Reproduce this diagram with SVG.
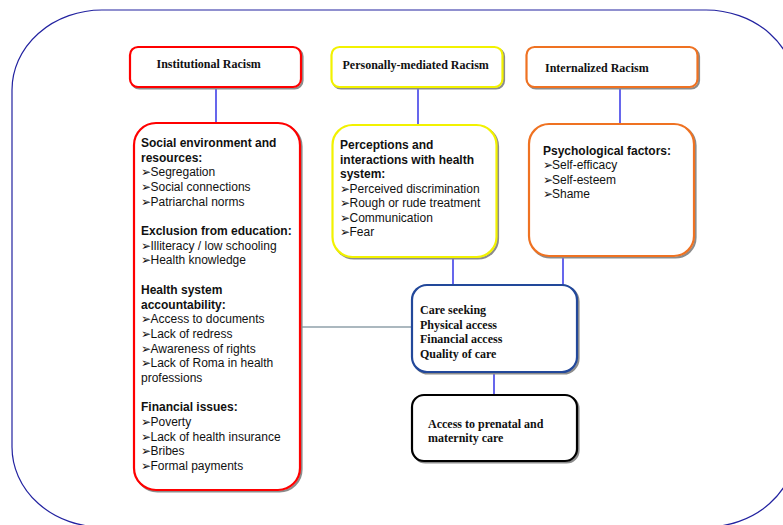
<svg xmlns="http://www.w3.org/2000/svg" width="783" height="525" viewBox="0 0 783 525">
<style>
.frame{fill:none;stroke:#2222a0;stroke-width:1.2}
.box{fill:#fff;stroke-width:2.2}
.shadow{fill:none;stroke:#8c8c8c;stroke-width:2.2}
.red{stroke:#ff0000}
.yellow{stroke:#f2f200}
.orange{stroke:#ef7222}
.navy{stroke:#22489a}
.black{stroke:#000}
.conn{stroke:#0000e0;stroke-width:1.2;fill:none}
.gray{stroke:#8fa0aa;stroke-width:1.5;fill:none}
.ttl{font-family:"Liberation Serif","Times New Roman",serif;font-weight:bold;font-size:12px;fill:#111}
.sans{font-family:"Liberation Sans",Arial,sans-serif;font-size:12px;fill:#111}
.b{font-weight:bold}
.bul{font-family:"DejaVu Sans",sans-serif;font-size:12px}
</style>
<rect class="frame" x="12" y="10" width="784" height="517" rx="90" ry="80"/>

<g id="connectors">
<line class="conn" x1="216" y1="88" x2="216" y2="124"/>
<line class="conn" x1="418" y1="88" x2="418" y2="124"/>
<line class="conn" x1="620" y1="88" x2="620" y2="124"/>
<line class="conn" x1="453" y1="258" x2="453" y2="285"/>
<line class="conn" x1="563" y1="258" x2="563" y2="285"/>
<line class="gray" x1="300" y1="327" x2="411" y2="327"/>
<line class="conn" x1="494" y1="373" x2="494" y2="395"/>
</g>

<g id="institutional">
<rect class="shadow" x="131.5" y="48.5" width="171" height="40" rx="8"/>
<rect class="box red" x="130" y="47" width="171" height="40" rx="8"/>
<text class="ttl" x="156.5" y="68">Institutional Racism</text>
</g>

<g id="personally">
<rect class="shadow" x="333" y="48.5" width="171" height="40" rx="8"/>
<rect class="box yellow" x="331.5" y="47" width="171" height="40" rx="8"/>
<text class="ttl" x="342.5" y="69">Personally-mediated Racism</text>
</g>

<g id="internalized">
<rect class="shadow" x="528" y="48.5" width="171" height="40" rx="8"/>
<rect class="box orange" x="526.5" y="47" width="171" height="40" rx="8"/>
<text class="ttl" x="545" y="72">Internalized Racism</text>
</g>

<g id="social">
<rect class="shadow" x="135.5" y="124.5" width="166" height="367" rx="22"/>
<rect class="box red" x="134" y="123" width="166" height="367" rx="22"/>
<text class="sans">
<tspan class="b" x="141" y="147">Social environment and</tspan>
<tspan class="b" x="141" y="161.7">resources:</tspan>
<tspan class="bul" x="141" y="176.4">➢</tspan><tspan x="150.5" y="176.4">Segregation</tspan>
<tspan class="bul" x="141" y="191">➢</tspan><tspan x="150.5" y="191">Social connections</tspan>
<tspan class="bul" x="141" y="205.7">➢</tspan><tspan x="150.5" y="205.7">Patriarchal norms</tspan>
<tspan class="b" x="141" y="235.1">Exclusion from education:</tspan>
<tspan class="bul" x="141" y="249.8">➢</tspan><tspan x="150.5" y="249.8">Illiteracy / low schooling</tspan>
<tspan class="bul" x="141" y="264.4">➢</tspan><tspan x="150.5" y="264.4">Health knowledge</tspan>
<tspan class="b" x="141" y="293.8">Health system</tspan>
<tspan class="b" x="141" y="308.5">accountability:</tspan>
<tspan class="bul" x="141" y="323.2">➢</tspan><tspan x="150.5" y="323.2">Access to documents</tspan>
<tspan class="bul" x="141" y="337.8">➢</tspan><tspan x="150.5" y="337.8">Lack of redress</tspan>
<tspan class="bul" x="141" y="352.5">➢</tspan><tspan x="150.5" y="352.5">Awareness of rights</tspan>
<tspan class="bul" x="141" y="367.2">➢</tspan><tspan x="150.5" y="367.2">Lack of Roma in health</tspan>
<tspan x="141" y="381.9">professions</tspan>
<tspan class="b" x="141" y="411.2">Financial issues:</tspan>
<tspan class="bul" x="141" y="425.9">➢</tspan><tspan x="150.5" y="425.9">Poverty</tspan>
<tspan class="bul" x="141" y="440.6">➢</tspan><tspan x="150.5" y="440.6">Lack of health insurance</tspan>
<tspan class="bul" x="141" y="455.3">➢</tspan><tspan x="150.5" y="455.3">Bribes</tspan>
<tspan class="bul" x="141" y="470">➢</tspan><tspan x="150.5" y="470">Formal payments</tspan>
</text>
</g>

<g id="perceptions">
<rect class="shadow" x="334" y="126.5" width="164" height="132" rx="20"/>
<rect class="box yellow" x="332.5" y="125" width="164" height="132" rx="20"/>
<text class="sans">
<tspan class="b" x="340" y="149">Perceptions and</tspan>
<tspan class="b" x="340" y="163.5">interactions with health</tspan>
<tspan class="b" x="340" y="178">system:</tspan>
<tspan class="bul" x="340" y="192.5">➢</tspan><tspan x="349.5" y="192.5">Perceived discrimination</tspan>
<tspan class="bul" x="340" y="207">➢</tspan><tspan x="349.5" y="207">Rough or rude treatment</tspan>
<tspan class="bul" x="340" y="221.5">➢</tspan><tspan x="349.5" y="221.5">Communication</tspan>
<tspan class="bul" x="340" y="236">➢</tspan><tspan x="349.5" y="236">Fear</tspan>
</text>
</g>

<g id="psychological">
<rect class="shadow" x="530.5" y="125.5" width="165" height="132" rx="20"/>
<rect class="box orange" x="529" y="124" width="165" height="132" rx="20"/>
<text class="sans">
<tspan class="b" x="543" y="155">Psychological factors:</tspan>
<tspan class="bul" x="543" y="169">➢</tspan><tspan x="552" y="169">Self-efficacy</tspan>
<tspan class="bul" x="543" y="183.5">➢</tspan><tspan x="552" y="183.5">Self-esteem</tspan>
<tspan class="bul" x="543" y="198">➢</tspan><tspan x="552" y="198">Shame</tspan>
</text>
</g>

<g id="care">
<rect class="shadow" x="413.5" y="286.5" width="165" height="87" rx="15"/>
<rect class="box navy" x="412" y="285" width="165" height="87" rx="15"/>
<text class="ttl">
<tspan x="420" y="314">Care seeking</tspan>
<tspan x="420" y="328.5">Physical access</tspan>
<tspan x="420" y="343">Financial access</tspan>
<tspan x="420" y="357.5">Quality of care</tspan>
</text>
</g>

<g id="access">
<rect class="shadow" x="413.5" y="396.5" width="165" height="66" rx="12"/>
<rect class="box black" x="412" y="395" width="165" height="66" rx="12"/>
<text class="ttl">
<tspan x="428" y="428">Access to prenatal and</tspan>
<tspan x="428" y="442">maternity care</tspan>
</text>
</g>
</svg>
